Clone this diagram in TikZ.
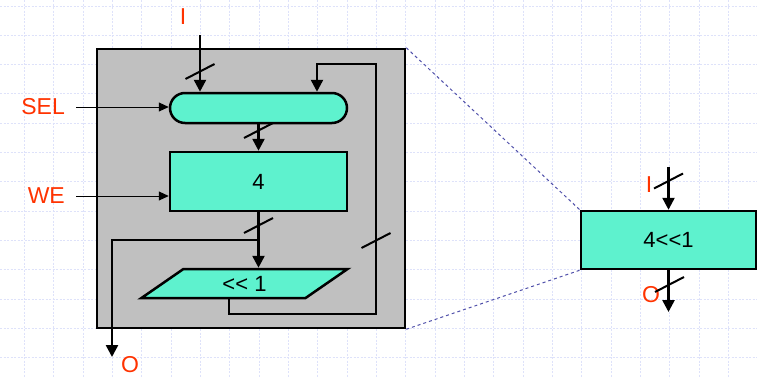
\documentclass[tikz,border=0pt]{standalone}
\usepackage{fontspec}
\setmainfont{Liberation Sans}
\usetikzlibrary{
    positioning,
    arrows.meta,
    shapes.misc,
    shapes.geometric
}
\definecolor{cajagris}{RGB}{192,192,192}
\definecolor{turquesa}{RGB}{94,242,206}
\definecolor{rojo}{RGB}{255,51,0}
\definecolor{lineaazul}{RGB}{80,80,170}
\definecolor{rejilla}{RGB}{222,226,250}
\tikzset{
    >={Triangle[length=12pt,width=12pt]},
    bloque/.style={
        draw,
        line width=2.5pt,
        fill=turquesa,
        inner sep=0pt,
        font=\fontsize{22}{26}\selectfont
    },
    bus/.style={line width=2.5pt},
    control/.style={line width=1pt, -{Triangle[length=10pt,width=9pt]}},
    etiqueta/.style={
        text=rojo,
        inner sep=0pt,
        font=\fontsize{23}{27}\selectfont
    },
    zoomlinea/.style={lineaazul, dashed, line width=1pt}
}

\begin{document}
\begin{tikzpicture}[
    x=1pt,
    y=-1pt
]

    \useasboundingbox (0,0) rectangle (757,378);
    \fill[white] (0,0) rectangle (757,378);

    % Rejilla de fondo
    \foreach \i in {0,...,25}
        \draw[rejilla, dash pattern=on 2pt off 1.5pt] ({24.3+29.33*\i},0) -- ({24.3+29.33*\i},378);
    \foreach \j in {0,...,12}
        \draw[rejilla, dash pattern=on 2pt off 1.5pt] (0,{5.7+29.33*\j}) -- (757,{5.7+29.33*\j});

    % Registro desplazador (vista interna)
    \node[draw, line width=2.5pt, fill=cajagris, inner sep=0pt,
          minimum width=308pt, minimum height=279pt] (marco) at (251,188.5) {};

    % Lineas de ampliacion
    \node[bloque, minimum width=175pt, minimum height=58pt] (regb) at (668.5,240) {};
    \draw[zoomlinea] (marco.north east) -- (regb.north west);
    \draw[zoomlinea] (marco.south east) -- (regb.south west);
    \node[bloque, minimum width=175pt, minimum height=58pt] at (regb) {4<\kern0pt<1};

    % Bloques
    \node[bloque, rounded rectangle,
          minimum width=177pt, minimum height=30pt] (mux) at (258.5,108) {};
    \node[bloque, minimum width=177pt, minimum height=59pt] (reg) at (258.5,181.5) {4};
    \node[bloque, trapezium,
          trapezium left angle=45, trapezium right angle=135,
          trapezium stretches=true,
          minimum width=207pt, minimum height=29pt] (desp) at (244.5,283.5) {<\kern0pt< 1};

    % Etiquetas
    \node[etiqueta] (I) at (183,17) {I};
    \node[etiqueta, anchor=east] (sel) at (65,107) {SEL};
    \node[etiqueta, anchor=east] (we) at (65,196) {WE};
    \node[etiqueta] (O) at (130,365) {O};
    \node[etiqueta] (Ib) at (649,185) {I};
    \node[etiqueta] (Ob) at (651,295) {O};

    % Puntos auxiliares
    \coordinate (ient)  at (200,35);
    \coordinate (ramal) at (258.5,240);
    \coordinate (osal)  at (112,357);
    \coordinate (esqab) at (376,314);
    \coordinate (esqar) at (376,64);
    \coordinate (llega) at (317,64);
    \coordinate (ibent) at (668.5,167);
    \coordinate (obsal) at (668.5,312);

    % Conexiones
    \draw[bus, ->] (ient) -- (ient |- mux.north);
    \draw[control, shorten <=11pt] (sel.east) -- (sel.east -| mux.west);
    \draw[control, shorten <=11pt] (we.east) -- (we.east -| reg.west);
    \draw[bus, ->] (mux.south) -- (reg.north);
    \draw[bus, ->] (reg.south) -- (reg.south |- desp.top side);
    \draw[bus, ->] (ramal) -| (osal);
    \draw[bus, ->] ([xshift=-15.5pt]desp.south) |- (esqab) -- (esqar) -- (llega) -- (llega |- mux.north);
    \draw[bus, ->] (ibent) -- (regb.north);
    \draw[bus, ->] (regb.south) -- (obsal);

    % Marcas de bus
    \foreach \x/\y in {200/71.5, 258.5/130.5, 258.5/225.5, 376/240.5, 668.5/181, 669.5/284.5}
        \draw[bus, line width=2pt] (\x,\y) ++(-14.5,7.5) -- ++(29,-15);

\end{tikzpicture}
\end{document}
